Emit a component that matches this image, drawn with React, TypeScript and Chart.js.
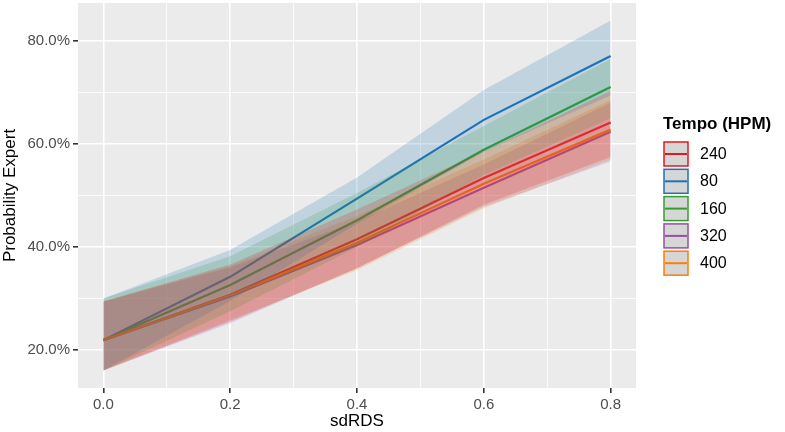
import { useEffect, useRef } from 'react';
import Chart from 'chart.js/auto';

// Predicted probability of "expert" vs sdRDS, one line + CI ribbon per tempo.
const SD_RDS = [0, 0.2, 0.4, 0.6, 0.8];
const TEMPOS = ['240', '80', '160', '320', '400'];
const COLORS = ['#E31A1C', '#1F72B6', '#33A02C', '#984EA3', '#FF7F00'];

const MEAN_240 = [21.9, 30.7, 41.5, 53.4, 64.2];
const MEAN_80 = [21.9, 34.2, 49.4, 64.7, 77.1];
const MEAN_160 = [21.9, 32.6, 45.2, 58.9, 71.1];
const MEAN_320 = [21.9, 30.4, 40.4, 51.5, 62.4];
const MEAN_400 = [21.9, 30.6, 40.8, 52.3, 62.8];

const LOW_240 = [16.0, 25.5, 35.8, 48.2, 57.5];
const LOW_80 = [16.0, 29.5, 44.5, 58.5, 69.5];
const LOW_160 = [16.0, 27.5, 40.0, 54.0, 65.0];
const LOW_320 = [16.0, 25.2, 35.9, 47.8, 56.6];
const LOW_400 = [16.0, 25.8, 35.5, 47.5, 57.0];

const HIGH_240 = [29.4, 36.6, 47.3, 58.6, 70.3];
const HIGH_80 = [30.0, 39.4, 53.5, 70.5, 84.0];
const HIGH_160 = [30.0, 38.2, 50.5, 63.5, 76.5];
const HIGH_320 = [29.4, 36.0, 45.0, 56.0, 68.0];
const HIGH_400 = [29.4, 36.3, 46.0, 57.0, 68.5];

const MEANS = [MEAN_240, MEAN_80, MEAN_160, MEAN_320, MEAN_400];
const LOWS = [LOW_240, LOW_80, LOW_160, LOW_320, LOW_400];
const HIGHS = [HIGH_240, HIGH_80, HIGH_160, HIGH_320, HIGH_400];

const X_TICKS = [0, 0.1, 0.2, 0.3, 0.4, 0.5, 0.6, 0.7, 0.8];
const Y_TICKS = [20, 30, 40, 50, 60, 70, 80];

const FONT = "'Liberation Sans', Arial, sans-serif";
const TICK_TEXT = '#4D4D4D';
const PANEL = '#EBEBEB';

const toPoints = (ys: number[]) => ys.map((y, i) => ({ x: SD_RDS[i], y }));

const hexAlpha = (hex: string, a: number) => {
  const n = parseInt(hex.slice(1), 16);
  return `rgba(${(n >> 16) & 255}, ${(n >> 8) & 255}, ${n & 255}, ${a})`;
};

const panelBg = {
  id: 'panelBg',
  beforeDraw(chart: Chart) {
    const { ctx, chartArea: a } = chart;
    ctx.save();
    ctx.fillStyle = PANEL;
    ctx.fillRect(a.left, a.top, a.right - a.left, a.bottom - a.top);
    ctx.restore();
  },
};

// ggplot-style legend on the right: boxed keys with a line through them.
const sideLegend = {
  id: 'sideLegend',
  afterDraw(chart: Chart) {
    const { ctx } = chart;
    ctx.save();
    ctx.fillStyle = '#000';
    ctx.textBaseline = 'middle';
    ctx.textAlign = 'left';
    ctx.font = `bold 17px ${FONT}`;
    ctx.fillText('Tempo (HPM)', 663, 124);
    ctx.font = `16px ${FONT}`;
    TEMPOS.forEach((t, i) => {
      const top = 142 + i * 27.3;
      ctx.fillStyle = '#D6D6D6';
      ctx.fillRect(664, top, 24, 24);
      ctx.strokeStyle = COLORS[i];
      ctx.lineWidth = 1.5;
      ctx.strokeRect(664, top, 24, 24);
      ctx.beginPath();
      ctx.moveTo(665, top + 12);
      ctx.lineTo(687, top + 12);
      ctx.lineWidth = 2;
      ctx.stroke();
      ctx.fillStyle = '#000';
      ctx.fillText(t, 700, top + 12.5);
    });
    ctx.restore();
  },
};

// Chart.js reserves half a tick label at each end of an axis; ggplot doesn't.
const noEdgePadding = (s: any) => {
  s.paddingTop = 0;
  s.paddingBottom = 0;
  s.paddingLeft = 0;
  s.paddingRight = 0;
};

export default function App() {
  const canvasRef = useRef<HTMLCanvasElement | null>(null);

  useEffect(() => {
    document.body.style.margin = '0';
    const el = canvasRef.current;
    if (!el) return;

    // Ribbons sit over the lines (geom_ribbon after geom_line), 240 topmost.
    const bands: any[] = [];
    TEMPOS.forEach((t, i) => {
      bands.push({
        label: `${t} upper`,
        data: toPoints(HIGHS[i]),
        fill: '+1',
        backgroundColor: hexAlpha(COLORS[i], 0.2),
        borderWidth: 0,
        pointRadius: 0,
      });
      bands.push({
        label: `${t} lower`,
        data: toPoints(LOWS[i]),
        fill: false,
        borderWidth: 0,
        pointRadius: 0,
      });
    });
    // first dataset is painted last, so reverse to keep 400 on top
    const lines = TEMPOS.map((t, i) => ({
      label: t,
      data: toPoints(MEANS[i]),
      fill: false,
      borderColor: COLORS[i],
      borderWidth: 2.2,
      pointRadius: 0,
      tension: 0,
    })).reverse();

    const isMajorX = (v: number) => Math.round(v * 10) % 2 === 0;
    const isMajorY = (v: number) => Math.round(v) % 20 === 0;

    const chart = new Chart(el, {
      type: 'line',
      data: { datasets: [...bands, ...lines] },
      plugins: [panelBg, sideLegend],
      options: {
        animation: false,
        responsive: false,
        layout: { padding: { top: 3, right: 149, left: 0, bottom: 0 } },
        plugins: {
          legend: { display: false },
          tooltip: { enabled: false },
          filler: { drawTime: 'beforeDatasetDraw' },
        },
        scales: {
          x: {
            type: 'linear',
            min: -0.04,
            max: 0.84,
            afterBuildTicks: (s: any) => {
              s.ticks = X_TICKS.map((value) => ({ value }));
            },
            afterFit: (s: any) => {
              s.height = 44;
              noEdgePadding(s);
            },
            border: { display: false },
            grid: {
              color: '#FFFFFF',
              lineWidth: (c: any) => (isMajorX(c.tick.value) ? 1.6 : 0.8),
              tickColor: (c: any) => (isMajorX(c.tick.value) ? '#333333' : 'rgba(0,0,0,0)'),
              tickLength: 5,
            },
            ticks: {
              autoSkip: false,
              maxRotation: 0,
              padding: 3,
              color: TICK_TEXT,
              font: { family: FONT, size: 15 },
              callback: (v: any) => (isMajorX(Number(v)) ? Number(v).toFixed(1) : ''),
            },
            title: {
              display: true,
              text: 'sdRDS',
              color: '#000',
              font: { family: FONT, size: 17, lineHeight: 1.2 },
              padding: { top: 0, bottom: 0 },
            },
          },
          y: {
            type: 'linear',
            min: 12.6,
            max: 87.4,
            afterBuildTicks: (s: any) => {
              s.ticks = Y_TICKS.map((value) => ({ value }));
            },
            afterFit: (s: any) => {
              s.width = 78;
              noEdgePadding(s);
            },
            border: { display: false },
            grid: {
              color: '#FFFFFF',
              lineWidth: (c: any) => (isMajorY(c.tick.value) ? 1.6 : 0.8),
              tickColor: (c: any) => (isMajorY(c.tick.value) ? '#333333' : 'rgba(0,0,0,0)'),
              tickLength: 5,
            },
            ticks: {
              autoSkip: false,
              padding: 3,
              color: TICK_TEXT,
              font: { family: FONT, size: 15 },
              callback: (v: any) => (isMajorY(Number(v)) ? `${Number(v).toFixed(1)}%` : ''),
            },
            title: {
              display: true,
              text: 'Probability Expert',
              color: '#000',
              font: { family: FONT, size: 17, lineHeight: 1.2 },
              padding: { top: 0, bottom: 0 },
            },
          },
        },
      },
    });
    return () => chart.destroy();
  }, []);

  return (
    <div style={{ width: 785, height: 432, background: '#fff' }}>
      <canvas ref={canvasRef} width={785} height={432} />
    </div>
  );
}
